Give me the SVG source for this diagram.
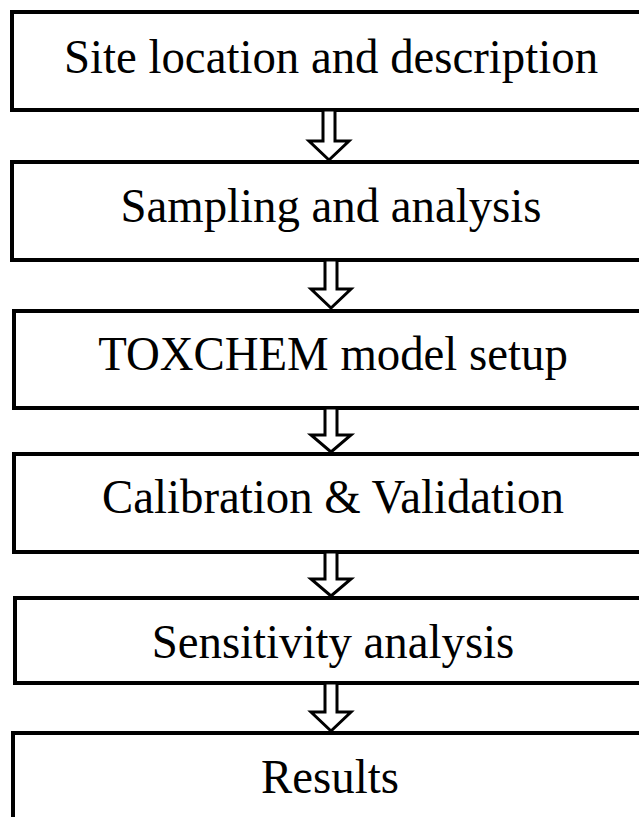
<svg xmlns="http://www.w3.org/2000/svg" width="639" height="817" viewBox="0 0 639 817">
<style>
.box{fill:#fff;stroke:#000;stroke-width:4}
.lbl{font-family:"Liberation Serif","Times New Roman",serif;font-size:48px;fill:#000;text-anchor:middle}
.arr{fill:#fff;stroke:#000;stroke-width:3;stroke-linejoin:miter}
</style>
<rect x="0" y="0" width="639" height="817" fill="#fff"/>
<g id="node1"><rect class="box" x="12" y="12" width="640" height="98"/><text class="lbl" transform="translate(331 73) scale(0.975 1)">Site location and description</text></g>
<g id="node2"><rect class="box" x="12" y="162" width="640" height="98"/><text class="lbl" transform="translate(331 222) scale(0.975 1)">Sampling and analysis</text></g>
<g id="node3"><rect class="box" x="14" y="311" width="640" height="97"/><text class="lbl" transform="translate(333 370) scale(0.975 1)">TOXCHEM model setup</text></g>
<g id="node4"><rect class="box" x="14" y="454" width="640" height="98"/><text class="lbl" transform="translate(333 513) scale(0.975 1)">Calibration &amp; Validation</text></g>
<g id="node5"><rect class="box" x="15" y="598" width="640" height="85"/><text class="lbl" transform="translate(333 658) scale(0.975 1)">Sensitivity analysis</text></g>
<g id="node6"><rect class="box" x="13" y="733" width="640" height="120"/><text class="lbl" transform="translate(330 793) scale(0.975 1)">Results</text></g>
<g id="connectors">
<polygon class="arr" points="323,110 335,110 335,141 349,141 329,160 309,141 323,141"/>
<polygon class="arr" points="325,260 337,260 337,289 351,289 331,308 311,289 325,289"/>
<polygon class="arr" points="325,408 337,408 337,435 351,435 331,452 311,435 325,435"/>
<polygon class="arr" points="325,552 337,552 337,579 351,579 331,596 311,579 325,579"/>
<polygon class="arr" points="325,683 337,683 337,712 351,712 331,731 311,712 325,712"/>
</g>
</svg>
